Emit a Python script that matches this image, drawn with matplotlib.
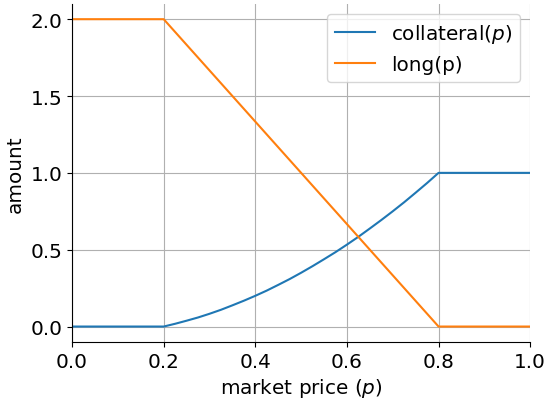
import matplotlib
matplotlib.use("Agg")
import matplotlib.pyplot as plt

# market price grid and the values
price = [0.0, 0.2, 0.225, 0.25, 0.275, 0.3, 0.325, 0.35, 0.375, 0.4, 0.425, 0.45, 0.475,
         0.5, 0.525, 0.55, 0.575, 0.6, 0.625, 0.65, 0.675, 0.7, 0.725, 0.75, 0.775, 0.8, 1.0]
collateral = [0.0, 0.0, 0.018, 0.038, 0.059, 0.083, 0.109, 0.138, 0.168, 0.2, 0.234, 0.271, 0.309,
              0.35, 0.393, 0.438, 0.484, 0.533, 0.584, 0.638, 0.693, 0.75, 0.809, 0.871, 0.934, 1.0, 1.0]

long_price = [0.0, 0.2, 0.8, 1.0]
long_amount = [2.0, 2.0, 0.0, 0.0]

plt.rcParams['font.size'] = 14.4

fig, ax = plt.subplots(figsize=(5.46, 4.02), dpi=100)
fig.subplots_adjust(left=0.132, right=0.971, top=0.988, bottom=0.147)

ax.plot(price, collateral, label='collateral($p$)')
ax.plot(long_price, long_amount, label='long(p)')

ax.set_xlim(0, 1)
ax.set_xlabel('market price ($p$)')
ax.set_ylabel('amount')
ax.grid(True)
ax.spines['top'].set_visible(False)
ax.spines['right'].set_visible(False)
ax.legend(loc='upper right')

fig.savefig('out.png', dpi=100)
